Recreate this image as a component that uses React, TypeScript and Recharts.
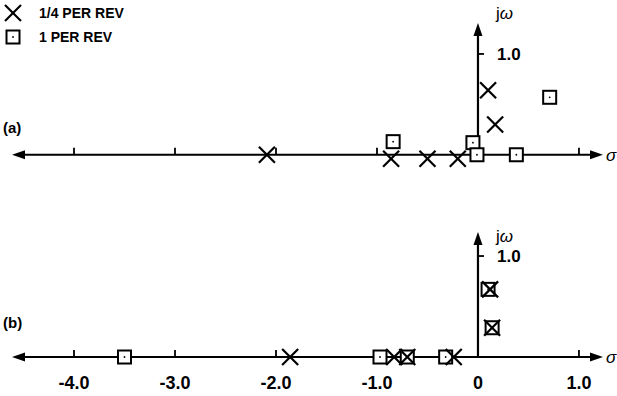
import { ScatterChart, Scatter, XAxis, YAxis, ReferenceLine } from 'recharts';

// sigma (real) axis ticks and their printed labels
const SIGMA_TICKS = [-4, -3, -2, -1, 0, 1];
const SIGMA_TICK_LABELS = ['-4.0', '-3.0', '-2.0', '-1.0', '0', '1.0'];
const SIGMA_MARKS = [-4, -3, -2, -1, 1];
const OMEGA_MARKS = [1];

const SERIES_NAMES = ['1/4 PER REV', '1 PER REV'];

// (a) roots
const quarterRevA = [
  { x: -2.09, y: 0 },
  { x: -0.86, y: -0.04 },
  { x: -0.5, y: -0.04 },
  { x: -0.2, y: -0.04 },
  { x: 0.1, y: 0.64 },
  { x: 0.17, y: 0.3 },
];
const oneRevA = [
  { x: -0.84, y: 0.13 },
  { x: -0.05, y: 0.12 },
  { x: -0.01, y: 0 },
  { x: 0.38, y: 0 },
  { x: 0.71, y: 0.57 },
];

// (b) roots
const quarterRevB = [
  { x: -1.86, y: 0 },
  { x: -0.83, y: 0 },
  { x: -0.7, y: 0 },
  { x: -0.24, y: 0 },
  { x: 0.12, y: 0.67 },
  { x: 0.14, y: 0.29 },
];
const oneRevB = [
  { x: -3.5, y: 0 },
  { x: -0.97, y: 0 },
  { x: -0.7, y: 0 },
  { x: -0.32, y: 0 },
  { x: 0.1, y: 0.67 },
  { x: 0.14, y: 0.29 },
];

const FONT = '"Liberation Sans", Arial, Helvetica, sans-serif';
const SIGMA_DOMAIN = [-4.614, 1.238];

const Cross = (p: any) => {
  const { cx, cy } = p;
  const s = 8;
  return (
    <g>
      <line x1={cx - s} y1={cy - s} x2={cx + s} y2={cy + s} stroke="#000" strokeWidth={2.2} />
      <line x1={cx - s} y1={cy + s} x2={cx + s} y2={cy - s} stroke="#000" strokeWidth={2.2} />
    </g>
  );
};

const Box = (p: any) => {
  const { cx, cy } = p;
  const s = 6.5;
  return (
    <g>
      <rect x={cx - s} y={cy - s} width={s * 2} height={s * 2} fill="#fff" stroke="#000" strokeWidth={2} />
      <circle cx={cx} cy={cy} r={0.9} fill="#000" />
    </g>
  );
};

const HAxis = (p: any) => {
  const { x1, y1, x2, y2 } = p;
  const y = (y1 + y2) / 2;
  return (
    <g>
      <line x1={x1 + 6} y1={y} x2={x2 - 6} y2={y} stroke="#000" strokeWidth={2.2} />
      <path d={`M${x1},${y} L${x1 + 13},${y - 4.5} L${x1 + 13},${y + 4.5} Z`} fill="#000" />
      <path d={`M${x2},${y} L${x2 - 13},${y - 4.5} L${x2 - 13},${y + 4.5} Z`} fill="#000" />
    </g>
  );
};

const VAxis = (p: any) => {
  const { x1, y1, x2, y2 } = p;
  const top = Math.min(y1, y2);
  const bot = Math.max(y1, y2);
  return (
    <g>
      <line x1={x1} y1={bot} x2={x2} y2={top + 6} stroke="#000" strokeWidth={2.2} />
      <path d={`M${x1},${top} L${x1 - 4.5},${top + 13} L${x1 + 4.5},${top + 13} Z`} fill="#000" />
    </g>
  );
};

const axisParts = (top: number) => [
  <ReferenceLine key="h" y={0} shape={HAxis} ifOverflow="visible" />,
  <ReferenceLine key="v" segment={[{ x: 0, y: 0 }, { x: 0, y: top }]} shape={VAxis} ifOverflow="visible" />,
  ...SIGMA_MARKS.map((t) => (
    <ReferenceLine
      key={`s${t}`}
      segment={[{ x: t, y: 0 }, { x: t, y: 0.07 }]}
      stroke="#000"
      strokeWidth={1.8}
      ifOverflow="visible"
    />
  )),
  ...OMEGA_MARKS.map((t) => (
    <ReferenceLine
      key={`w${t}`}
      segment={[{ x: 0, y: t }, { x: 0.06, y: t }]}
      stroke="#000"
      strokeWidth={1.8}
      ifOverflow="visible"
      label={{ value: t.toFixed(1), position: 'right', offset: 13, fill: '#000', fontSize: 17, fontWeight: 700, fontFamily: FONT }}
    />
  )),
];

const textStyle: any = { position: 'absolute', fontFamily: FONT, color: '#000', lineHeight: 1 };

export default function App() {
  const topA = 1.307;
  const topB = 1.238;
  return (
    <div style={{ position: 'absolute', left: 0, top: 0, width: 617, height: 396, background: '#fff' }}>
      <div style={{ position: 'absolute', left: 0, top: 0 }}>
        <ScatterChart width={617} height={200} margin={{ top: 23, right: 14, bottom: 15, left: 12 }}>
          <XAxis type="number" dataKey="x" domain={SIGMA_DOMAIN} allowDataOverflow hide />
          <YAxis type="number" dataKey="y" domain={[-0.3, topA]} allowDataOverflow hide />
          {axisParts(topA)}
          <Scatter name={SERIES_NAMES[0]} data={quarterRevA} shape={Cross} isAnimationActive={false} />
          <Scatter name={SERIES_NAMES[1]} data={oneRevA} shape={Box} isAnimationActive={false} />
        </ScatterChart>
      </div>
      <div style={{ position: 'absolute', left: 0, top: 200 }}>
        <ScatterChart width={617} height={196} margin={{ top: 32, right: 14, bottom: 0, left: 12 }}>
          <XAxis
            type="number"
            dataKey="x"
            domain={SIGMA_DOMAIN}
            allowDataOverflow
            ticks={SIGMA_TICKS}
            tickFormatter={(v: number) => SIGMA_TICK_LABELS[SIGMA_TICKS.indexOf(v)]}
            axisLine={false}
            tickLine={false}
            tickSize={0}
            tickMargin={0}
            height={20}
            interval={0}
            tick={{ fill: '#000', fontSize: 18, fontWeight: 700, fontFamily: FONT }}
          />
          <YAxis type="number" dataKey="y" domain={[-0.188, topB]} allowDataOverflow hide />
          {axisParts(topB)}
          <Scatter name={SERIES_NAMES[1]} data={oneRevB} shape={Box} isAnimationActive={false} />
          <Scatter name={SERIES_NAMES[0]} data={quarterRevB} shape={Cross} isAnimationActive={false} />
        </ScatterChart>
      </div>
      {/* legend */}
      <div style={{ position: 'absolute', left: 4, top: 1, fontFamily: FONT, fontWeight: 700, fontSize: 14, color: '#000' }}>
        {SERIES_NAMES.map((name, i) => (
          <div key={name} style={{ display: 'flex', alignItems: 'center', height: 24 }}>
            <svg width={18} height={18}>
              {i === 0 ? <Cross cx={9} cy={9} /> : <Box cx={9} cy={9} />}
            </svg>
            <span style={{ marginLeft: 17 }}>{name}</span>
          </div>
        ))}
      </div>
      <div style={{ ...textStyle, left: 3, top: 120, fontSize: 15, fontWeight: 700 }}>(a)</div>
      <div style={{ ...textStyle, left: 3, top: 315, fontSize: 15, fontWeight: 700 }}>(b)</div>
      <div style={{ ...textStyle, left: 496, top: 5, fontSize: 17 }}>
        j<i>ω</i>
      </div>
      <div style={{ ...textStyle, left: 496, top: 228, fontSize: 17 }}>
        j<i>ω</i>
      </div>
      <div style={{ ...textStyle, left: 606, top: 147, fontSize: 17, fontStyle: 'italic' }}>σ</div>
      <div style={{ ...textStyle, left: 606, top: 349, fontSize: 17, fontStyle: 'italic' }}>σ</div>
    </div>
  );
}
